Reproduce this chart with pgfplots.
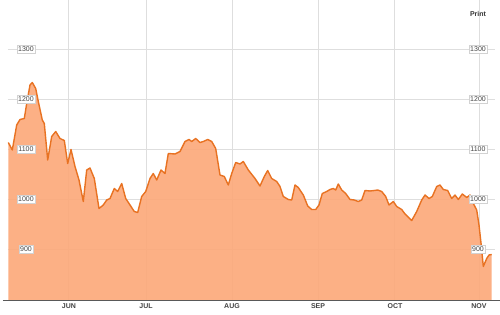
\documentclass[border=0pt]{standalone}
\usepackage{fontspec}
\setmainfont{Liberation Sans}
\usepackage{pgfplots}
\pgfplotsset{compat=1.18}
\definecolor{fillor}{RGB}{252,170,124}
\definecolor{lineor}{RGB}{232,114,34}
\definecolor{gridc}{RGB}{222,222,222}
\definecolor{txt}{RGB}{68,68,68}
\begin{document}
\begin{tikzpicture}
\path[use as bounding box, fill=white] (0pt,-15pt) rectangle (500pt,300pt);
\begin{axis}[
  at={(8pt,0pt)}, anchor=south west,
  scale only axis, width=487pt, height=300pt,
  xmin=8, xmax=495, ymin=798, ymax=1398,
  axis line style={draw=none}, tick style={draw=none},
  xtick={68,146,232,318,394,479}, ytick={900,1000,1100,1200,1300},
  xticklabels={}, yticklabels={},
  grid=major, major grid style={gridc, line width=0.9pt},
  clip=false,
]
\addplot[draw=none, fill=fillor, fill opacity=0.93] coordinates {
(8.3,1113) (12.3,1098) (16.7,1148) (20,1159) (24.3,1161) (26.7,1191) (30,1228) (32.3,1233)
(35.7,1221) (38.3,1195) (42.3,1158) (44.3,1151) (47.7,1078) (51.7,1125) (55.7,1135) (60,1121)
(64.3,1117) (67.7,1071) (71,1099) (75,1065) (79,1038) (83.3,995) (86.7,1058) (90,1062)
(94.3,1041) (99,981) (103.3,988) (106.7,998) (110,1001) (114.3,1021) (117.7,1015) (121.7,1031)
(125.7,1001) (130,988) (134.3,975) (137.7,973) (141.7,1005) (145.7,1015) (150,1041) (153.3,1051)
(156.7,1038) (161,1058) (165,1051) (168.3,1091) (175,1090) (180,1095) (185,1115) (189,1119)
(191.7,1115) (195.7,1121) (200,1113) (203.3,1115) (207.7,1119) (211.7,1115) (215.7,1101) (220,1048)
(224.3,1045) (228.3,1028) (231.7,1051) (235.7,1073) (240,1070) (243.3,1075) (248.3,1058) (255,1041)
(260,1026) (264.3,1045) (267.7,1057) (271.7,1041) (276.7,1035) (280,1025) (283.3,1005) (288.3,999)
(291.7,998) (295,1028) (298.3,1023) (303.3,1008) (307.7,986) (311.7,979) (315.7,979) (319,988)
(322.3,1011) (326.7,1015) (330,1019) (333.3,1021) (335.7,1018) (338.3,1030) (341.7,1018) (345.7,1011)
(350,999) (354.3,998) (358.3,995) (361.7,998) (365,1017) (370,1016) (374.3,1017) (377.7,1018)
(381.7,1015) (385.7,1005) (389,988) (393.3,995) (396.7,985) (401.7,979) (405,970) (411.7,957)
(416.7,975) (421.7,998) (425,1008) (429,1001) (432.3,1005) (436.7,1025) (440,1028) (443.3,1019)
(447.7,1017) (451.7,1001) (455,1008) (458.3,999) (462.3,1010) (466.7,1003) (470,1008) (473.3,991)
(476.7,978) (479,948) (481,912) (483.3,865) (486.7,881) (489,888) (491.7,889)
} \closedcycle;
\addplot[lineor, line width=1.4pt, line join=round] coordinates {
(8.3,1113) (12.3,1098) (16.7,1148) (20,1159) (24.3,1161) (26.7,1191) (30,1228) (32.3,1233)
(35.7,1221) (38.3,1195) (42.3,1158) (44.3,1151) (47.7,1078) (51.7,1125) (55.7,1135) (60,1121)
(64.3,1117) (67.7,1071) (71,1099) (75,1065) (79,1038) (83.3,995) (86.7,1058) (90,1062)
(94.3,1041) (99,981) (103.3,988) (106.7,998) (110,1001) (114.3,1021) (117.7,1015) (121.7,1031)
(125.7,1001) (130,988) (134.3,975) (137.7,973) (141.7,1005) (145.7,1015) (150,1041) (153.3,1051)
(156.7,1038) (161,1058) (165,1051) (168.3,1091) (175,1090) (180,1095) (185,1115) (189,1119)
(191.7,1115) (195.7,1121) (200,1113) (203.3,1115) (207.7,1119) (211.7,1115) (215.7,1101) (220,1048)
(224.3,1045) (228.3,1028) (231.7,1051) (235.7,1073) (240,1070) (243.3,1075) (248.3,1058) (255,1041)
(260,1026) (264.3,1045) (267.7,1057) (271.7,1041) (276.7,1035) (280,1025) (283.3,1005) (288.3,999)
(291.7,998) (295,1028) (298.3,1023) (303.3,1008) (307.7,986) (311.7,979) (315.7,979) (319,988)
(322.3,1011) (326.7,1015) (330,1019) (333.3,1021) (335.7,1018) (338.3,1030) (341.7,1018) (345.7,1011)
(350,999) (354.3,998) (358.3,995) (361.7,998) (365,1017) (370,1016) (374.3,1017) (377.7,1018)
(381.7,1015) (385.7,1005) (389,988) (393.3,995) (396.7,985) (401.7,979) (405,970) (411.7,957)
(416.7,975) (421.7,998) (425,1008) (429,1001) (432.3,1005) (436.7,1025) (440,1028) (443.3,1019)
(447.7,1017) (451.7,1001) (455,1008) (458.3,999) (462.3,1010) (466.7,1003) (470,1008) (473.3,991)
(476.7,978) (479,948) (481,912) (483.3,865) (486.7,881) (489,888) (491.7,889)
};
\draw[gray!70!black, line width=0.8pt] (axis cs:3,798) -- (axis cs:500,798);
\pgfplotsinvokeforeach{900,1000,1100,1200,1300}{
  \node[fill=white, draw=gray!35, inner sep=1.3pt, font=\fontsize{7}{8}\selectfont, text=txt] at (axis cs:26,#1) {#1};
  \node[fill=white, draw=gray!35, inner sep=1.3pt, font=\fontsize{7}{8}\selectfont, text=txt] at (axis cs:478,#1) {#1};
}
\node[font=\fontsize{7}{8}\selectfont\bfseries, text=txt] at (axis cs:69,786) {JUN};
\node[font=\fontsize{7}{8}\selectfont\bfseries, text=txt] at (axis cs:146,786) {JUL};
\node[font=\fontsize{7}{8}\selectfont\bfseries, text=txt] at (axis cs:232,786) {AUG};
\node[font=\fontsize{7}{8}\selectfont\bfseries, text=txt] at (axis cs:318,786) {SEP};
\node[font=\fontsize{7}{8}\selectfont\bfseries, text=txt] at (axis cs:395,786) {OCT};
\node[font=\fontsize{7}{8}\selectfont\bfseries, text=txt] at (axis cs:479,786) {NOV};
\node[font=\fontsize{7}{8}\selectfont\bfseries, text=txt!80!black] at (axis cs:478,1370) {Print};
\end{axis}
\end{tikzpicture}
\end{document}
